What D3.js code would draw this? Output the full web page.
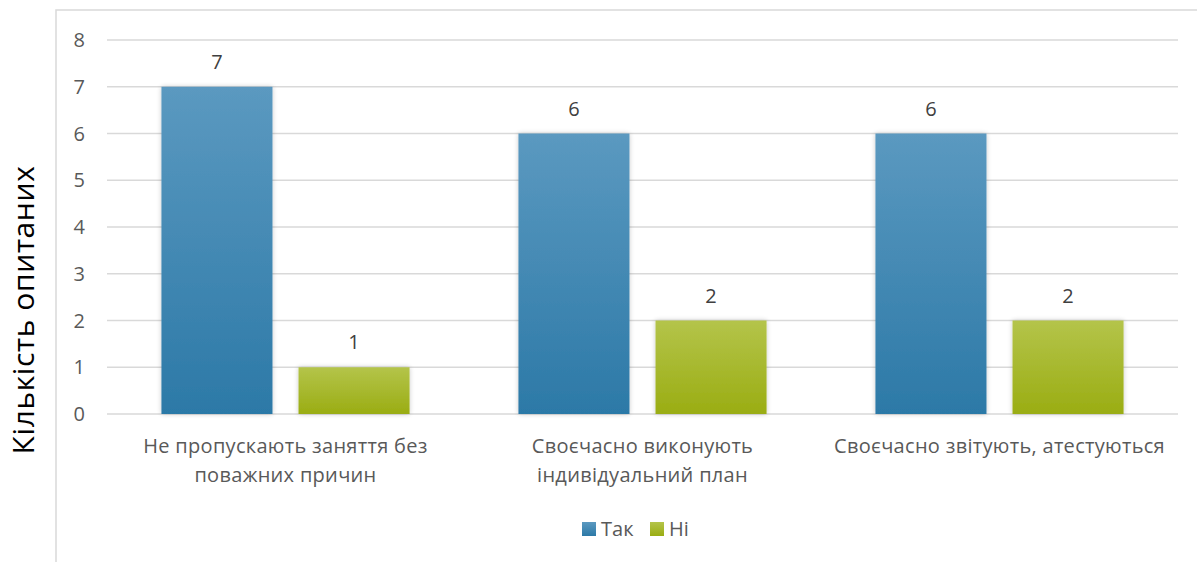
<!DOCTYPE html>
<html>
<head>
<meta charset="utf-8">
<script src="https://cdn.jsdelivr.net/npm/d3@7"></script>
<style>
  body { margin: 0; background: #fff; }
  text { font-family: "Open Sans", "Noto Sans", sans-serif; }
</style>
</head>
<body>
<svg id="chart" width="1197" height="562"></svg>
<script>
const categories = [
    ['Не пропускають заняття без', 'поважних причин'],
    ['Своєчасно виконують', 'індивідуальний план'],
    ['Своєчасно звітують, атестуються']
]
const seriesNames = ['Так', 'Ні']
const takValues = [7, 6, 6]
const niValues = [1, 2, 2]
const yTicks = [0, 1, 2, 3, 4, 5, 6, 7, 8]

const width = 1197, height = 562
const margin = { left: 107, right: 19, top: 40, bottom: 148 }

const svg = d3.select('#chart')

// frame
svg.append('path')
    .attr('d', `M56,${height} L56,10 L${width},10`)
    .style('fill', 'none')
    .style('stroke', '#d9d9d9')
    .style('stroke-width', 1.5)

const defs = svg.append('defs')
const gradColors = [['#5b99c0', '#2c79a7'], ['#b4c44a', '#9aad13']]
gradColors.forEach((c, i) => {
    let g = defs.append('linearGradient')
        .attr('id', 'grad-' + i)
        .attr('x1', '0%').attr('y1', '0%').attr('x2', '0%').attr('y2', '100%')
    g.append('stop').attr('offset', '0%').attr('stop-color', c[0])
    g.append('stop').attr('offset', '100%').attr('stop-color', c[1])
})
let shadow = defs.append('filter').attr('id', 'shadow')
    .attr('x', '-20%').attr('y', '-20%').attr('width', '140%').attr('height', '140%')
shadow.append('feGaussianBlur').attr('in', 'SourceAlpha').attr('stdDeviation', 2.5).attr('result', 'blur')
shadow.append('feComponentTransfer').attr('in', 'blur').attr('result', 'sh')
    .append('feFuncA').attr('type', 'linear').attr('slope', 0.22)
let merge = shadow.append('feMerge')
merge.append('feMergeNode').attr('in', 'sh')
merge.append('feMergeNode').attr('in', 'SourceGraphic')

const x0 = d3.scaleBand()
    .domain(d3.range(categories.length))
    .range([margin.left, width - margin.right])
    .paddingInner(0.305)
    .paddingOuter(0.1525)

const x1 = d3.scaleBand()
    .domain(d3.range(seriesNames.length))
    .range([0, x0.bandwidth()])
    .paddingInner(0.19)

const y = d3.scaleLinear()
    .domain([0, 8])
    .range([height - margin.bottom, margin.top])

// gridlines
svg.append('g')
    .selectAll('line')
    .data(yTicks)
    .join('line')
    .attr('x1', margin.left)
    .attr('x2', width - margin.right)
    .attr('y1', d => y(d))
    .attr('y2', d => y(d))
    .style('stroke', '#d9d9d9')
    .style('stroke-width', 1.5)

// y tick labels
svg.append('g')
    .selectAll('text')
    .data(yTicks)
    .join('text')
    .attr('x', 85)
    .attr('y', d => y(d))
    .attr('dy', '0.36em')
    .attr('text-anchor', 'end')
    .style('font-size', '20px')
    .style('fill', '#595959')
    .text(d => d)

const rows = categories.map((c, i) => [takValues[i], niValues[i]])

const groups = svg.append('g')
    .selectAll('g')
    .data(rows)
    .join('g')
    .attr('transform', (d, i) => `translate(${x0(i)},0)`)

groups.selectAll('rect')
    .data(d => d)
    .join('rect')
    .attr('x', (d, i) => x1(i))
    .attr('y', d => y(d))
    .attr('width', x1.bandwidth())
    .attr('height', d => y(0) - y(d))
    .style('fill', (d, i) => 'url(#grad-' + i + ')')
    .style('filter', 'url(#shadow)')

groups.selectAll('text')
    .data(d => d)
    .join('text')
    .attr('x', (d, i) => x1(i) + x1.bandwidth() / 2)
    .attr('y', d => y(d) - 18)
    .attr('text-anchor', 'middle')
    .style('font-size', '20px')
    .style('fill', '#404040')
    .text(d => d)

// category labels
svg.append('g')
    .selectAll('text')
    .data(categories)
    .join('text')
    .attr('x', (d, i) => x0(i) + x0.bandwidth() / 2)
    .attr('y', 453)
    .attr('text-anchor', 'middle')
    .style('font-size', '20px')
    .style('letter-spacing', '0.3px')
    .style('fill', '#595959')
    .each(function (d) {
        d3.select(this).selectAll('tspan')
            .data(d)
            .join('tspan')
            .attr('x', d3.select(this).attr('x'))
            .attr('dy', (t, j) => j == 0 ? 0 : 29)
            .text(t => t)
    })

// axis title
svg.append('text')
    .attr('transform', 'translate(34,310) rotate(-90)')
    .attr('text-anchor', 'middle')
    .style('font-size', '30px')
    .style('letter-spacing', '0.6px')
    .style('fill', '#000')
    .text('Кількість опитаних')

// legend
const legend = svg.append('g')
const legendX = [582, 650]
seriesNames.forEach((s, i) => {
    legend.append('rect')
        .attr('x', legendX[i])
        .attr('y', 522)
        .attr('width', 14)
        .attr('height', 14)
        .style('fill', 'url(#grad-' + i + ')')
    legend.append('text')
        .attr('x', legendX[i] + 19)
        .attr('y', 529)
        .attr('dy', '0.36em')
        .style('font-size', '20px')
        .style('fill', '#595959')
        .text(s)
})
</script>
</body>
</html>
